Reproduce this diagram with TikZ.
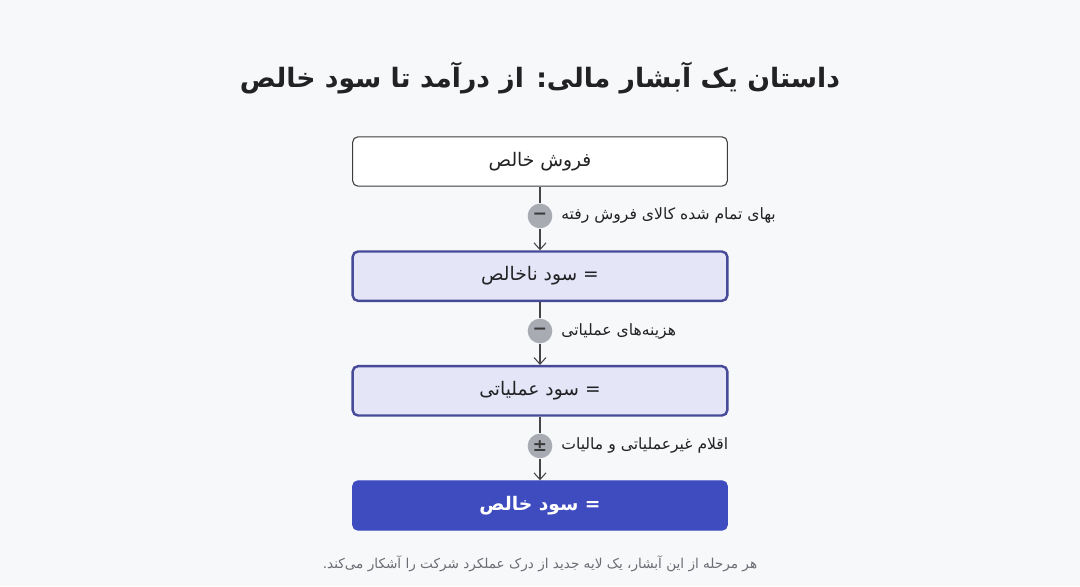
\documentclass[tikz,border=0pt]{standalone}
\usepackage{fontspec}
\usetikzlibrary{arrows.meta,calc,positioning}
\TeXXeTstate=1
\newfontfamily\arabicfont[Script=Arabic]{DejaVu Sans}
\newfontfamily\symfont{DejaVu Sans}
\definecolor{pagebg}{HTML}{F7F8FA}
\definecolor{boxline}{HTML}{3C3C3E}
\definecolor{midline}{HTML}{474A99}
\definecolor{midfill}{HTML}{E4E6F8}
\definecolor{endfill}{HTML}{3F4CBF}
\definecolor{signfill}{HTML}{A8ABB2}
\definecolor{signtext}{HTML}{3A3A3C}
\definecolor{linkline}{HTML}{454547}
\definecolor{notetext}{HTML}{6A6D73}
\definecolor{titletext}{HTML}{222224}

\begin{document}
\begin{tikzpicture}[x=0.75pt,y=-0.75pt,>={Straight Barb[length=5pt,width=9pt]},node distance=86pt,
    plain box/.style={draw=boxline,fill=white,rounded corners=4pt,minimum width=281pt,minimum height=37pt,line width=0.8pt,text=titletext,font=\arabicfont\fontsize{14}{16}\selectfont},
    mid box/.style={plain box,draw=midline,fill=midfill,line width=1.8pt},
    end box/.style={plain box,draw=endfill,fill=endfill,text=white,font=\arabicfont\bfseries\fontsize{14}{16}\selectfont},
    sign node/.style={circle,fill=signfill,minimum size=18.5pt,inner sep=0pt,text=signtext,font=\symfont\bfseries\fontsize{13}{13}\selectfont},
    step label/.style={font=\arabicfont\fontsize{11.7}{14}\selectfont,text=titletext}]

            \fill[pagebg] (0,0) rectangle (1080,586);
            \useasboundingbox (0,0) rectangle (1080,586);

            \node[font=\arabicfont\bfseries\fontsize{20}{24}\selectfont,text=titletext] (title) at (540,78) {\beginR داستان یک آبشار مالی: از درآمد تا سود خالص\endR};

            \node[plain box] (fs) at (540,161.5) {\beginR فروش خالص\endR};
            \node[mid box]   (gp) [below of = fs] {\beginR = سود ناخالص\endR};
            \node[mid box]   (op) [below of = gp] {\beginR = سود عملیاتی\endR};
            \node[end box]   (np) [below of = op] {\beginR = سود خالص\endR};

            \node[sign node] (s1) at ($(fs.south)!0.46!(gp.north)$) {−};
            \node[sign node] (s2) at ($(gp.south)!0.46!(op.north)$) {−};
            \node[sign node] (s3) at ($(op.south)!0.46!(np.north)$) {±};

            \node[step label] (l1) [right=3pt of s1] {\beginR بهای تمام شده کالای فروش رفته\endR};
            \node[step label] (l2) [right=3pt of s2] {\beginR هزینه‌های عملیاتی\endR};
            \node[step label] (l3) [right=3pt of s3] {\beginR اقلام غیرعملیاتی و مالیات\endR};

            \node[font=\arabicfont\fontsize{10.2}{12}\selectfont,text=notetext] (note) at (540,564) {\beginR هر مرحله از این آبشار، یک لایه جدید از درک عملکرد شرکت را آشکار می‌کند.\endR};

            \path[draw=linkline,line width=0.8pt]
                (fs) edge (s1)
                (s1) edge[->] (gp)
                (gp) edge (s2)
                (s2) edge[->] (op)
                (op) edge (s3)
                (s3) edge[->] (np)
            ;
        \end{tikzpicture}
\end{document}
